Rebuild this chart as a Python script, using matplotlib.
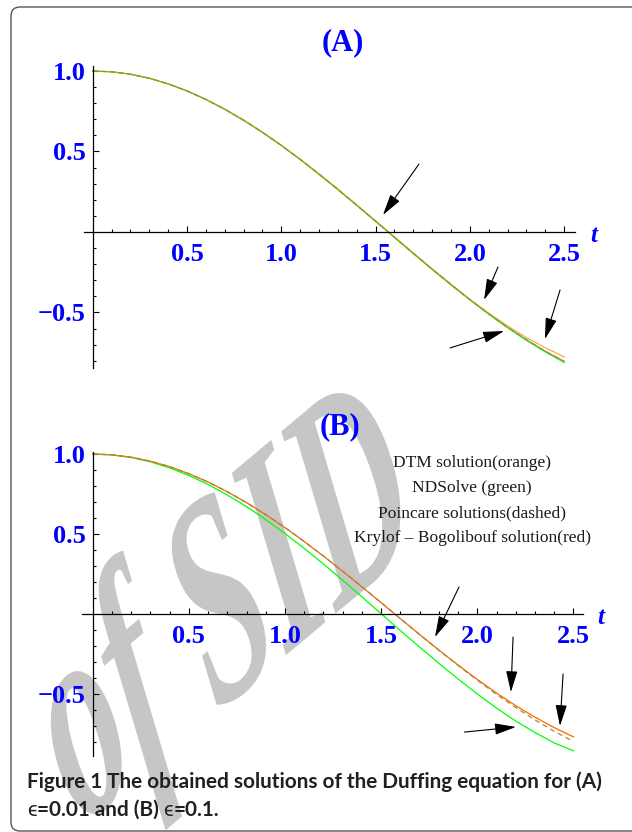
import matplotlib
matplotlib.use('Agg')
import matplotlib.pyplot as plt
import numpy as np
from matplotlib.patches import FancyBboxPatch, PathPatch
from matplotlib.textpath import TextPath
from matplotlib.font_manager import FontProperties
from matplotlib.transforms import Affine2D, IdentityTransform
from matplotlib.ticker import FixedLocator

W, H = 632, 832

# time grid (read every 0.1)
t = [0.0, 0.1, 0.2, 0.3, 0.4, 0.5, 0.6, 0.7, 0.8, 0.9, 1.0, 1.1, 1.2,
     1.3, 1.4, 1.5, 1.6, 1.7, 1.8, 1.9, 2.0, 2.1, 2.2, 2.3, 2.4, 2.5]

# panel (A), eps = 0.01
a_green = [1.000, 0.995, 0.980, 0.955, 0.920, 0.876, 0.823, 0.762, 0.694, 0.618,
           0.537, 0.450, 0.358, 0.263, 0.165, 0.066, -0.034, -0.134, -0.233, -0.329,
           -0.422, -0.511, -0.595, -0.673, -0.745, -0.810]
a_orange = [1.000, 0.995, 0.980, 0.955, 0.921, 0.877, 0.825, 0.764, 0.696, 0.621,
            0.540, 0.453, 0.362, 0.267, 0.169, 0.070, -0.030, -0.130, -0.228, -0.324,
            -0.418, -0.504, -0.584, -0.656, -0.719, -0.776]
a_dashed = [1.000, 0.995, 0.980, 0.955, 0.920, 0.876, 0.823, 0.762, 0.694, 0.619,
            0.538, 0.451, 0.359, 0.264, 0.166, 0.067, -0.033, -0.133, -0.231, -0.327,
            -0.420, -0.509, -0.592, -0.669, -0.740, -0.803]
a_red = a_dashed

# panel (B), eps = 0.1
b_green = [1.000, 0.994, 0.978, 0.951, 0.913, 0.866, 0.810, 0.744, 0.671, 0.590,
           0.503, 0.410, 0.312, 0.211, 0.107, 0.002, -0.104, -0.207, -0.308, -0.406,
           -0.500, -0.588, -0.669, -0.741, -0.806, -0.855]
b_orange = [1.000, 0.995, 0.980, 0.955, 0.921, 0.877, 0.825, 0.764, 0.696, 0.621,
            0.540, 0.453, 0.362, 0.267, 0.170, 0.071, -0.029, -0.128, -0.225, -0.319,
            -0.409, -0.494, -0.573, -0.645, -0.710, -0.768]
b_dashed = [1.000, 0.995, 0.980, 0.955, 0.921, 0.877, 0.825, 0.764, 0.696, 0.621,
            0.540, 0.453, 0.362, 0.267, 0.170, 0.071, -0.029, -0.129, -0.227, -0.322,
            -0.414, -0.502, -0.585, -0.662, -0.733, -0.797]
b_red = b_orange

x_ticks = [0.5, 1.0, 1.5, 2.0, 2.5]
x_labels = ['0.5', '1.0', '1.5', '2.0', '2.5']
y_ticks = [-0.5, 0.5, 1.0]
y_labels = ['\u22120.5', '0.5', '1.0']

legend_lines = ['DTM solution(orange)', 'NDSolve (green)',
                'Poincare solutions(dashed)', 'Krylof \u2013 Bogolibouf solution(red)']

# arrows (tail, head) in data units
a_arrows = [((1.730, 0.422), (1.539, 0.106)),
            ((2.149, -0.217), (2.075, -0.422)),
            ((2.478, -0.360), (2.398, -0.665)),
            ((1.895, -0.720), (2.181, -0.615))]
b_arrows = [((1.905, 0.169), (1.780, -0.144)),
            ((2.186, -0.144), (2.175, -0.488)),
            ((2.446, -0.375), (2.430, -0.700)),
            ((1.933, -0.738), (2.201, -0.706))]

BLUE = (0, 0, 1)
SERIF = 'Liberation Serif'

fig = plt.figure(figsize=(W / 100, H / 100), dpi=100)


def px(x, y):
    return x / W, 1 - y / H


def make_panel(origin, sx, sy, xlim, ylim, xb, yb):
    ox, oy = origin
    left = ox + xlim[0] * sx
    right = ox + xlim[1] * sx
    top = oy - ylim[1] * sy
    bottom = oy - ylim[0] * sy
    ax = fig.add_axes([left / W, 1 - bottom / H, (right - left) / W, (bottom - top) / H])
    ax.set_xlim(xlim)
    ax.set_ylim(ylim)
    ax.patch.set_visible(False)
    for s in ['top', 'right']:
        ax.spines[s].set_visible(False)
    for s in ['left', 'bottom']:
        ax.spines[s].set_position(('data', 0))
        ax.spines[s].set_linewidth(0.9)
    ax.spines['left'].set_bounds(*yb)
    ax.spines['bottom'].set_bounds(*xb)

    xminor = [round(0.1 * i, 1) for i in range(1, 26) if i % 5]
    yminor = [round(0.1 * i, 1) for i in range(-8, 11) if i % 5]
    ax.xaxis.set_major_locator(FixedLocator(x_ticks))
    ax.xaxis.set_minor_locator(FixedLocator(xminor))
    ax.yaxis.set_major_locator(FixedLocator(y_ticks))
    ax.yaxis.set_minor_locator(FixedLocator(yminor))
    ax.set_xticklabels(x_labels)
    ax.set_yticklabels(y_labels)
    ax.tick_params(which='both', direction='in', color='black', width=0.8)
    ax.tick_params(which='major', length=4.5)
    ax.tick_params(which='minor', length=2.5)
    ax.tick_params(axis='x', pad=8, labelsize=19, labelcolor=BLUE)
    ax.tick_params(axis='y', pad=5, labelsize=19, labelcolor=BLUE)
    for lab in ax.get_xticklabels() + ax.get_yticklabels():
        lab.set_fontfamily(SERIF)
        lab.set_fontweight('bold')
    return ax


def draw_curves(ax, green, red, dashed, orange, arrows, orange_alpha):
    ax.plot(t, red, color=(1, 0, 0), lw=0.5)
    ax.plot(t, green, color=(0, 1, 0), lw=0.9)
    ax.plot(t, orange, color=(1, 0.5, 0), lw=0.9, alpha=orange_alpha)
    ax.plot(t, dashed, color='#a08850', lw=0.9, dashes=(4, 3))
    for tail, head in arrows:
        ax.annotate('', xy=head, xytext=tail,
                    arrowprops=dict(arrowstyle='-|>,head_length=1.3,head_width=0.35',
                                    color='black', lw=0.8, mutation_scale=10,
                                    shrinkA=0, shrinkB=0))


axA = make_panel((92.7, 232), 188.6, 161, (-0.06, 2.6), (-0.87, 1.05),
                 (-0.048, 2.555), (-0.845, 1.03))
draw_curves(axA, a_green, a_red, a_dashed, a_orange, a_arrows, 0.7)

axB = make_panel((92.7, 614), 192.3, 160, (-0.06, 2.6), (-0.92, 1.05),
                 (-0.055, 2.55), (-0.89, 1.015))
draw_curves(axB, b_green, b_red, b_dashed, b_orange, b_arrows, 1.0)

# panel titles and axis name
for (x, y), s in [((343, 43), '(A)'), ((340, 427), '(B)')]:
    fig.text(*px(x, y), s, color=BLUE, fontsize=22, fontweight='bold',
             family=SERIF, ha='center', va='center')
for x, y in [(594, 236), (601, 618)]:
    fig.text(*px(x, y), 't', color=BLUE, fontsize=18, fontweight='bold',
             fontstyle='italic', family=SERIF, ha='center', va='center')

# legend text in panel B
for i, line in enumerate(legend_lines):
    fig.text(*px(472, 463 + 25 * i), line, color='#1a1a1a', fontsize=12.5,
             family=SERIF, ha='center', va='center')

# caption
renderer = fig.canvas.get_renderer()
cap_col = '#231f20'
cap1 = fig.text(*px(27, 788), 'Figure 1 The obtained solutions of the Duffing equation for (A)',
                color=cap_col, fontsize=15, fontweight='bold', family='Lato',
                ha='left', va='baseline')
w = cap1.get_window_extent(renderer).width
cap_size = 15 * 577 / w
cap1.set_fontsize(cap_size)

x0 = 27
for s, wt in [('\u03f5', 'normal'), ('=0.01 and (B) ', 'bold'),
              ('\u03f5', 'normal'), ('=0.1.', 'bold')]:
    piece = fig.text(*px(x0, 816), s, color=cap_col, fontsize=cap_size, fontweight=wt,
                     family=['Lato', 'DejaVu Sans'], ha='left', va='baseline')
    x0 += piece.get_window_extent(renderer).width

# watermark "of SID", sheared and rotated, behind everything
beta, phi = np.radians(40), np.radians(112)
A, C = 165, 280
wm_path = TextPath((0, 0), 'of SID', size=1,
                   prop=FontProperties(family=SERIF, weight='bold', style='italic'))
wm_tr = Affine2D().from_values(A * np.cos(beta), A * np.sin(beta),
                               C * np.cos(phi), C * np.sin(phi), 80, 4)
fig.patches.append(PathPatch(wm_path, transform=wm_tr, facecolor='#c6c6c6',
                             edgecolor='none', zorder=-5))

# outer rounded frame
fig.patches.append(FancyBboxPatch((11, 1), 660, H - 8, boxstyle='round,pad=0,rounding_size=9',
                                  transform=IdentityTransform(), facecolor='none',
                                  edgecolor='#555555', lw=1.0, zorder=-6))

fig.savefig('out.png', dpi=100)
